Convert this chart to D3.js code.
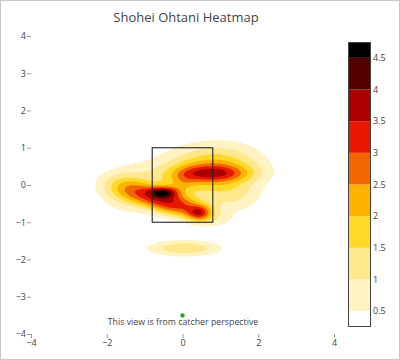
<!DOCTYPE html>
<html><head><meta charset="utf-8">
<script src="https://cdn.jsdelivr.net/npm/d3@7"></script>
<style>body{margin:0;background:#fff} svg{display:block}</style>
</head><body>
<script>
// ---- data ----
const titleText = "Shohei Ohtani Heatmap";
const noteText = "This view is from catcher perspective";
const xTicks = [-4, -2, 0, 2, 4];
const yTicks = [-4, -3, -2, -1, 0, 1, 2, 3, 4];
const levels = [0.5, 1, 1.5, 2, 2.5, 3, 3.5, 4, 4.5];
const cbTicks = [0.5, 1, 1.5, 2, 2.5, 3, 3.5, 4, 4.5];
const cbRange = [0.25, 4.75];
const bandColors = ["#ffffff", "#fff3c4", "#ffe88c", "#ffda2b", "#fbb300", "#f26500", "#e91700", "#aa0000", "#550000", "#000000"];
// density components: centre, spread, tilt (deg), height
const blobName  = ["base", "leftTongue", "ridgeAB1", "ridgeAB2", "coreA", "spotB", "ridgeC", "broadC", "linkAC", "rightLow", "lowEllipse"];
const blobX     = [0.2, -1.5, -0.37, -0.44, -0.5, 0.45, 0.8, 0.95, 0.0, 1.4, 0.05];
const blobY     = [0.15, -0.08, -0.35, -0.58, -0.19, -0.76, 0.31, 0.5, 0.05, -0.32, -1.7];
const blobSX    = [1.2, 0.45, 0.85, 0.85, 0.25, 0.22, 0.7, 0.75, 0.3, 0.5, 0.68];
const blobSY    = [0.55, 0.36, 0.16, 0.16, 0.1, 0.15, 0.16, 0.4, 0.2, 0.3, 0.15];
const blobAngle = [10, 0, -17, -17, 0, 0, 0, 0, 40, 0, 0];
const blobAmp   = [1.3, 1.0, 1.8, 1.8, 2.1, 1.8, 1.7, 1.2, 0.55, 0.65, 1.45];
const zoneX = [-0.8, 0.8];
const zoneY = [-1, 1];
const markerX = [0];
const markerY = [-3.5];

// ---- layout ----
const W = 400, H = 360;
const svg = d3.select("body").append("svg").attr("width", W).attr("height", H)
  .style("font-family", "'Open Sans', 'DejaVu Sans', sans-serif");
svg.append("rect").attr("x", 0.5).attr("y", 0.5).attr("width", W - 1).attr("height", H - 1)
  .attr("fill", "#fff").attr("stroke", "#c8c8c8");

const x = d3.scaleLinear().domain([-4, 4]).range([31, 334]);
const y = d3.scaleLinear().domain([-4, 4]).range([334, 36]);

// grid
const step = 0.02, g0 = -4.2, n = Math.round(8.4 / step) + 1;
const values = new Float64Array(n * n);
for (let j = 0; j < n; j++) {
  const yy = g0 + j * step;
  for (let i = 0; i < n; i++) {
    const xx = g0 + i * step;
    let v = 0;
    for (let k = 0; k < blobX.length; k++) {
      const a = blobAngle[k] * Math.PI / 180;
      const dx = xx - blobX[k], dy = yy - blobY[k];
      const u = dx * Math.cos(a) + dy * Math.sin(a);
      const w = -dx * Math.sin(a) + dy * Math.cos(a);
      v += blobAmp[k] * Math.exp(-0.5 * ((u / blobSX[k]) ** 2 + (w / blobSY[k]) ** 2));
    }
    values[j * n + i] = v;
  }
}
const contours = d3.contours().size([n, n]).thresholds(levels)(values);
const proj = d3.geoTransform({
  point(px, py) { this.stream.point(x(g0 + (px - 0.5) * step), y(g0 + (py - 0.5) * step)); }
});
const path = d3.geoPath(proj);

svg.append("clipPath").attr("id", "clip").append("rect")
  .attr("x", 31).attr("y", 36).attr("width", 303).attr("height", 298);
const plot = svg.append("g").attr("clip-path", "url(#clip)");
plot.selectAll("path").data(contours).join("path")
  .attr("d", path)
  .attr("fill", (d, i) => bandColors[i + 1]);

// strike zone
svg.append("rect")
  .attr("x", x(zoneX[0])).attr("y", y(zoneY[1]))
  .attr("width", x(zoneX[1]) - x(zoneX[0])).attr("height", y(zoneY[0]) - y(zoneY[1]))
  .attr("fill", "none").attr("stroke", "#222").attr("stroke-width", 1.1);

// marker
svg.selectAll("circle.mk").data(markerX).join("circle").attr("class", "mk")
  .attr("cx", (d) => x(d)).attr("cy", (d, i) => y(markerY[i])).attr("r", 2.2)
  .attr("fill", "#2ca02c");

// note
svg.append("text").attr("x", 183).attr("y", 325).attr("text-anchor", "middle")
  .attr("font-size", 8.8).attr("fill", "#444").text(noteText);

// title
svg.append("text").attr("x", 186).attr("y", 22).attr("text-anchor", "middle")
  .attr("font-size", 13).attr("fill", "#444").text(titleText);

const fmt = (d) => (d < 0 ? "\u2212" + Math.abs(d) : String(d));
const ax = svg.append("g").attr("transform", "translate(0,334)")
  .call(d3.axisBottom(x).tickValues(xTicks).tickSize(4).tickPadding(2).tickFormat(fmt));
const ay = svg.append("g").attr("transform", "translate(31,0)")
  .call(d3.axisLeft(y).tickValues(yTicks).tickSize(4).tickPadding(1).tickFormat(fmt));
[ax, ay].forEach((g) => {
  g.select(".domain").remove();
  g.selectAll("line").attr("stroke", "#999");
  g.selectAll("text").attr("fill", "#444").attr("font-size", 9)
    .style("font-family", "'Open Sans', 'DejaVu Sans', sans-serif");
});

// colorbar
const cb = d3.scaleLinear().domain(cbRange).range([327, 42]);
const cbX = 348, cbW = 23;
const bandEdges = [cbRange[0], ...levels, cbRange[1]];
svg.append("g").selectAll("rect").data(bandColors).join("rect")
  .attr("x", cbX).attr("width", cbW)
  .attr("y", (d, i) => cb(bandEdges[i + 1]))
  .attr("height", (d, i) => cb(bandEdges[i]) - cb(bandEdges[i + 1]))
  .attr("fill", (d) => d);
svg.append("rect").attr("x", cbX + 0.5).attr("y", cb(cbRange[1]) + 0.5)
  .attr("width", cbW - 1).attr("height", cb(cbRange[0]) - cb(cbRange[1]) - 1)
  .attr("fill", "none").attr("stroke", "#444").attr("stroke-width", 1);
svg.append("g").selectAll("text").data(cbTicks).join("text")
  .attr("x", cbX + cbW + 2).attr("y", (d) => cb(d)).attr("dy", "0.35em")
  .attr("font-size", 9).attr("fill", "#444").text((d) => d);
</script>
</body></html>
